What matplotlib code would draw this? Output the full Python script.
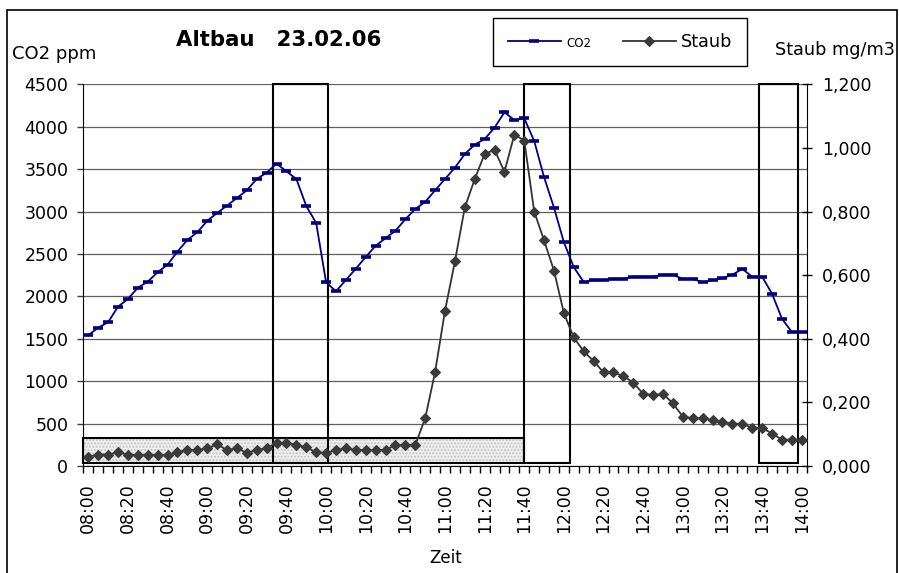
import matplotlib
matplotlib.use("Agg")
import matplotlib.pyplot as plt
from matplotlib.patches import Rectangle
from matplotlib.ticker import FixedLocator, FuncFormatter

plt.rcParams['font.family'] = ['DejaVu Sans']

# ---- data -------------------------------------------------------------
# measuring times (every 5 minutes, 08:00 .. 14:00)
zeiten = [f"{8 + m // 60:02d}:{m % 60:02d}" for m in range(0, 361, 5)]

co2 = [1541, 1631, 1694, 1878, 1969, 2102, 2173, 2284, 2373, 2527,
       2665, 2755, 2889, 2983, 3069, 3160, 3250, 3384, 3458, 3564,
       3474, 3384, 3065, 2865, 2166, 2060, 2193, 2326, 2464, 2597,
       2685, 2774, 2909, 3030, 3113, 3250, 3384, 3517, 3678, 3788,
       3855, 3989, 4170, 4079, 4099, 3832, 3404, 3045, 2637, 2343,
       2169, 2189, 2189, 2208, 2208, 2232, 2232, 2232, 2255, 2255,
       2205, 2205, 2166, 2189, 2213, 2255, 2323, 2232, 2232, 2031,
       1737, 1580, 1580]

staub = [0.029, 0.036, 0.036, 0.043, 0.036, 0.034, 0.034, 0.034, 0.034, 0.043,
         0.050, 0.050, 0.056, 0.068, 0.050, 0.056, 0.041, 0.050, 0.056, 0.073,
         0.073, 0.066, 0.059, 0.043, 0.041, 0.050, 0.056, 0.050, 0.050, 0.050,
         0.050, 0.066, 0.066, 0.066, 0.150, 0.295, 0.488, 0.643, 0.813, 0.902,
         0.981, 0.994, 0.925, 1.042, 1.023, 0.800, 0.709, 0.614, 0.480, 0.404,
         0.360, 0.330, 0.294, 0.294, 0.283, 0.262, 0.227, 0.223, 0.227, 0.197,
         0.155, 0.150, 0.150, 0.144, 0.138, 0.133, 0.133, 0.120, 0.120, 0.102,
         0.083, 0.083, 0.083]

co2_ticks = [0, 500, 1000, 1500, 2000, 2500, 3000, 3500, 4000, 4500]
staub_ticks = [0.0, 0.2, 0.4, 0.6, 0.8, 1.0, 1.2]
label_every = 4  # label every 4th time (20 min)

# marked periods, in category positions (start, end)
fenster = [(18.65, 24.2), (44.0, 48.6), (67.66, 71.6)]
fenster_co2 = (32, 4500)
grund_bereich = (-0.55, 44.0)
grund_co2 = (35, 334)

# ---- figure -----------------------------------------------------------
W, H = 899, 573
fig = plt.figure(figsize=(W / 100, H / 100), dpi=100)
fig.patch.set_facecolor('white')

ax = fig.add_axes([83.3 / W, 1 - 466 / H, (806.7 - 83.3) / W, (466 - 84.3) / H])
ax2 = ax.twinx()

x = list(range(len(zeiten)))

ax.set_xlim(-0.5, len(zeiten) - 0.5)
ax.set_ylim(0, 4500)
ax2.set_ylim(0, 1.2)

# grid
ax.set_axisbelow(True)
ax.yaxis.set_major_locator(FixedLocator(co2_ticks))
ax.grid(axis='y', color='#606060', linewidth=0.9)
ax.grid(axis='x', visible=False)

# boxes
for a, b in fenster:
    ax.add_patch(Rectangle((a, fenster_co2[0]), b - a, fenster_co2[1] - fenster_co2[0],
                           fill=False, edgecolor='black', linewidth=1.5, zorder=1.5,
                           clip_on=False))
ax.add_patch(Rectangle((grund_bereich[0], grund_co2[0]), grund_bereich[1] - grund_bereich[0],
                       grund_co2[1] - grund_co2[0], facecolor='#efefef', edgecolor='#c4c4c4',
                       hatch='.....', linewidth=0, zorder=1.2, clip_on=False))
ax.add_patch(Rectangle((grund_bereich[0], grund_co2[0]), grund_bereich[1] - grund_bereich[0],
                       grund_co2[1] - grund_co2[0], fill=False, edgecolor='black',
                       linewidth=1.5, zorder=1.4, clip_on=False))

# lines
l1, = ax.plot(x, co2, color='#000080', linewidth=1.3, marker='_', markersize=6.5,
              markeredgewidth=2.6, zorder=3, label='CO2')
l2, = ax2.plot(x, staub, color='#333333', linewidth=1.3, marker='D', markersize=5,
               markeredgewidth=0.8, markerfacecolor='#3a3a3a', markeredgecolor='#3a3a3a',
               zorder=3, label='Staub')

# x axis ticks
ax.xaxis.set_major_locator(FixedLocator(x[::label_every]))
ax.xaxis.set_major_formatter(FuncFormatter(lambda v, p: zeiten[int(round(v))]))
ax.xaxis.set_minor_locator(FixedLocator([i - 0.5 for i in range(len(zeiten) + 1)]))
ax.tick_params(axis='x', which='major', length=0, pad=12.2, labelsize=12.5,
               labelrotation=90)
ax.tick_params(axis='x', which='minor', length=5, width=1, direction='out', color='black')

# left y ticks
ax.yaxis.set_major_formatter(FuncFormatter(lambda v, p: f"{int(v)}"))
ax.tick_params(axis='y', which='major', length=4.3, width=1, direction='out',
               pad=6.5, labelsize=12.5, color='#404040')

# right y ticks
ax2.yaxis.set_major_locator(FixedLocator(staub_ticks))
ax2.yaxis.set_major_formatter(FuncFormatter(lambda v, p: f"{v:.3f}".replace('.', ',')))
ax2.tick_params(axis='y', which='major', length=7.2, width=1, direction='inout',
                pad=7.2, labelsize=12.5, color='black')

for s in ['top']:
    ax.spines[s].set_visible(False)
    ax2.spines[s].set_visible(False)
ax.spines['right'].set_visible(False)
ax2.spines['left'].set_visible(False)
ax.spines['left'].set_color('black')
ax.spines['bottom'].set_color('black')
ax2.spines['right'].set_color('black')
ax2.spines['bottom'].set_visible(False)

# texts
fig.text(11.7 / W, 1 - 59 / H, "CO2 ppm", fontsize=13, va='baseline', ha='left')
fig.text(775 / W, 1 - 55 / H, "Staub mg/m3", fontsize=12.7, va='baseline', ha='left')
fig.text(175.7 / W, 1 - 46 / H, "Altbau   23.02.06", fontsize=15.3, fontweight='bold',
         va='baseline', ha='left')
fig.text(445.5 / W, 1 - 562.7 / H, "Zeit", fontsize=12, va='baseline', ha='center')

# legend
leg = fig.legend(handles=[l1, l2], labels=['CO2', 'Staub'], loc='upper left',
                 bbox_to_anchor=(492.7 / W, 1 - 18.3 / H), bbox_transform=fig.transFigure,
                 ncol=2, fontsize=12.7, frameon=True, fancybox=False, shadow=False,
                 framealpha=1, edgecolor='black', borderaxespad=0, borderpad=0.85,
                 handlelength=3.0, handletextpad=0.3, columnspacing=1.8, numpoints=1)
leg.get_frame().set_linewidth(1.0)
leg.get_texts()[0].set_fontsize(8.5)

# outer frame
fig.add_artist(Rectangle((7.3 / W, -0.01), (897.3 - 7.3) / W, 1.01 - 10 / H,
                         transform=fig.transFigure, fill=False, edgecolor='black',
                         linewidth=1.2))

fig.savefig('out.png', dpi=100)
